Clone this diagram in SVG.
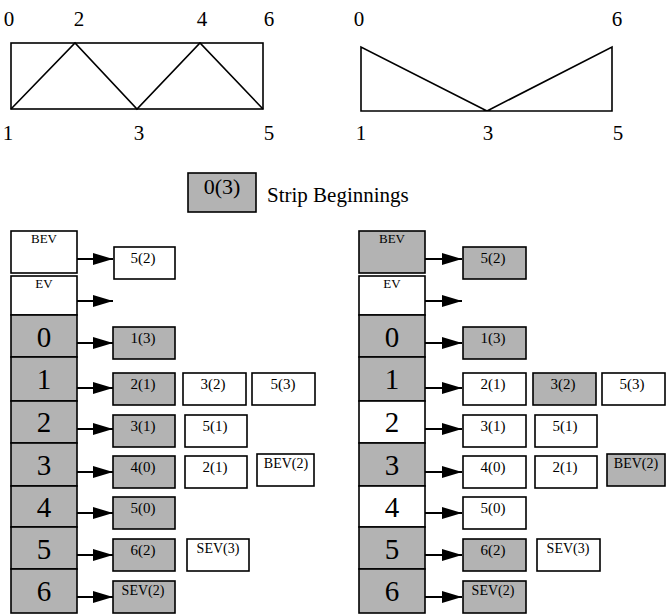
<svg xmlns="http://www.w3.org/2000/svg" width="666" height="615" viewBox="0 0 666 615" font-family="'Liberation Serif', 'DejaVu Serif', serif">
<defs>
<style>
text{font-family:'Liberation Serif','DejaVu Serif',serif;fill:#000}
.lbl{font-size:21px;text-anchor:middle}
.edge{fill:none;stroke:#000;stroke-width:1.6}
.cell{stroke:#000;stroke-width:1.6}
.box{stroke:#000;stroke-width:1.6}
.g{fill:#b3b3b3}
.w{fill:#fff}
.hd{font-size:13px;text-anchor:middle}
.dg{font-size:29px;text-anchor:middle}
.bt{font-size:15px;text-anchor:middle}
.bs{font-size:14px;text-anchor:middle}
.arr{stroke:#000;stroke-width:2;fill:none;marker-end:url(#ah)}
</style>
<marker id="ah" markerUnits="userSpaceOnUse" markerWidth="20" markerHeight="12" refX="20" refY="6" orient="auto">
<path d="M0,0 L20,6 L0,12 z" fill="#000"/>
</marker>
</defs>

<g id="mesh-left">
<rect class="edge" x="11" y="43" width="252" height="66"/>
<polyline class="edge" points="11,109 75,43 137,109 200,43 263,109"/>
<text class="lbl" x="9" y="26">0</text>
<text class="lbl" x="79" y="26">2</text>
<text class="lbl" x="202" y="26">4</text>
<text class="lbl" x="269" y="26">6</text>
<text class="lbl" x="8" y="140">1</text>
<text class="lbl" x="139" y="140">3</text>
<text class="lbl" x="269" y="140">5</text>
</g>

<g id="mesh-right">
<polyline class="edge" points="487,111 361,47 361,111 612,111 612,47 487,111"/>
<text class="lbl" x="359" y="26">0</text>
<text class="lbl" x="617" y="26">6</text>
<text class="lbl" x="361" y="140">1</text>
<text class="lbl" x="488" y="140">3</text>
<text class="lbl" x="618" y="140">5</text>
</g>

<g id="legend">
<rect class="box g" x="188" y="173" width="68" height="39"/>
<text x="222" y="194" font-size="22" text-anchor="middle">0(3)</text>
<text x="267" y="202" font-size="21">Strip Beginnings</text>
</g>

<g id="table-left">
<rect class="cell w" x="11" y="231" width="66" height="42"/>
<text class="hd" x="44" y="243">BEV</text>
<rect class="cell w" x="11" y="276" width="66" height="39"/>
<text class="hd" x="44" y="288">EV</text>
<rect class="cell g" x="11" y="315" width="66" height="42"/>
<text class="dg" x="44" y="347">0</text>
<rect class="cell g" x="11" y="357" width="66" height="44"/>
<text class="dg" x="44" y="389">1</text>
<rect class="cell g" x="11" y="401" width="66" height="42"/>
<text class="dg" x="44" y="432">2</text>
<rect class="cell g" x="11" y="443" width="66" height="43"/>
<text class="dg" x="44" y="475">3</text>
<rect class="cell g" x="11" y="486" width="66" height="41"/>
<text class="dg" x="44" y="517">4</text>
<rect class="cell g" x="11" y="527" width="66" height="42"/>
<text class="dg" x="44" y="559">5</text>
<rect class="cell g" x="11" y="569" width="66" height="44"/>
<text class="dg" x="44" y="601">6</text>
</g>

<g id="lists-left">
<rect class="box w" x="114" y="247" width="61" height="32"/><text class="bt" x="143" y="263">5(2)</text>
<rect class="box g" x="113" y="327" width="62" height="32"/><text class="bt" x="143" y="343">1(3)</text>
<rect class="box g" x="113" y="373" width="62" height="32"/><text class="bt" x="143" y="389">2(1)</text>
<rect class="box w" x="183" y="373" width="63" height="32"/><text class="bt" x="213" y="389">3(2)</text>
<rect class="box w" x="252" y="373" width="63" height="32"/><text class="bt" x="283" y="389">5(3)</text>
<rect class="box g" x="113" y="415" width="62" height="32"/><text class="bt" x="143" y="431">3(1)</text>
<rect class="box w" x="185" y="415" width="62" height="32"/><text class="bt" x="215" y="431">5(1)</text>
<rect class="box g" x="113" y="456" width="62" height="32"/><text class="bt" x="143" y="472">4(0)</text>
<rect class="box w" x="185" y="456" width="62" height="32"/><text class="bt" x="215" y="472">2(1)</text>
<rect class="box w" x="257" y="454" width="57" height="32"/><text class="bs" x="286" y="468">BEV(2)</text>
<rect class="box g" x="113" y="497" width="62" height="32"/><text class="bt" x="143" y="513">5(0)</text>
<rect class="box g" x="113" y="539" width="62" height="32"/><text class="bt" x="143" y="555">6(2)</text>
<rect class="box w" x="187" y="539" width="62" height="32"/><text class="bs" x="218" y="553">SEV(3)</text>
<rect class="box g" x="113" y="581" width="62" height="32"/><text class="bs" x="143" y="595">SEV(2)</text>
</g>

<g id="table-right">
<rect class="cell g" x="359" y="231" width="66" height="42"/>
<text class="hd" x="392" y="243">BEV</text>
<rect class="cell w" x="359" y="276" width="66" height="39"/>
<text class="hd" x="392" y="288">EV</text>
<rect class="cell g" x="359" y="315" width="66" height="42"/>
<text class="dg" x="392" y="347">0</text>
<rect class="cell g" x="359" y="357" width="66" height="44"/>
<text class="dg" x="392" y="389">1</text>
<rect class="cell w" x="359" y="401" width="66" height="42"/>
<text class="dg" x="392" y="432">2</text>
<rect class="cell g" x="359" y="443" width="66" height="43"/>
<text class="dg" x="392" y="475">3</text>
<rect class="cell w" x="359" y="486" width="66" height="41"/>
<text class="dg" x="392" y="517">4</text>
<rect class="cell g" x="359" y="527" width="66" height="42"/>
<text class="dg" x="392" y="559">5</text>
<rect class="cell g" x="359" y="569" width="66" height="44"/>
<text class="dg" x="392" y="601">6</text>
</g>

<g id="lists-right">
<rect class="box g" x="463" y="247" width="63" height="32"/><text class="bt" x="493" y="263">5(2)</text>
<rect class="box g" x="463" y="327" width="63" height="32"/><text class="bt" x="493" y="343">1(3)</text>
<rect class="box w" x="463" y="373" width="63" height="32"/><text class="bt" x="493" y="389">2(1)</text>
<rect class="box g" x="533" y="373" width="63" height="32"/><text class="bt" x="563" y="389">3(2)</text>
<rect class="box w" x="602" y="373" width="63" height="32"/><text class="bt" x="632" y="389">5(3)</text>
<rect class="box w" x="463" y="415" width="63" height="32"/><text class="bt" x="493" y="431">3(1)</text>
<rect class="box w" x="535" y="415" width="62" height="32"/><text class="bt" x="565" y="431">5(1)</text>
<rect class="box w" x="463" y="456" width="63" height="32"/><text class="bt" x="493" y="472">4(0)</text>
<rect class="box w" x="535" y="456" width="62" height="32"/><text class="bt" x="565" y="472">2(1)</text>
<rect class="box g" x="607" y="454" width="58" height="32"/><text class="bs" x="636" y="468">BEV(2)</text>
<rect class="box w" x="463" y="497" width="63" height="32"/><text class="bt" x="493" y="513">5(0)</text>
<rect class="box g" x="463" y="539" width="63" height="32"/><text class="bt" x="493" y="555">6(2)</text>
<rect class="box w" x="537" y="539" width="63" height="32"/><text class="bs" x="568" y="553">SEV(3)</text>
<rect class="box g" x="463" y="581" width="63" height="32"/><text class="bs" x="493" y="595">SEV(2)</text>
</g>

<g id="connectors">
<line class="arr" x1="77" y1="259" x2="113" y2="259"/>
<line class="arr" x1="77" y1="301" x2="113" y2="301"/>
<line class="arr" x1="77" y1="343" x2="113" y2="343"/>
<line class="arr" x1="77" y1="388" x2="113" y2="388"/>
<line class="arr" x1="77" y1="429" x2="113" y2="429"/>
<line class="arr" x1="77" y1="472" x2="113" y2="472"/>
<line class="arr" x1="77" y1="513" x2="113" y2="513"/>
<line class="arr" x1="77" y1="555" x2="113" y2="555"/>
<line class="arr" x1="77" y1="597" x2="113" y2="597"/>
<line class="arr" x1="425" y1="259" x2="462" y2="259"/>
<line class="arr" x1="425" y1="301" x2="462" y2="301"/>
<line class="arr" x1="425" y1="343" x2="462" y2="343"/>
<line class="arr" x1="425" y1="388" x2="462" y2="388"/>
<line class="arr" x1="425" y1="429" x2="462" y2="429"/>
<line class="arr" x1="425" y1="472" x2="462" y2="472"/>
<line class="arr" x1="425" y1="513" x2="462" y2="513"/>
<line class="arr" x1="425" y1="555" x2="462" y2="555"/>
<line class="arr" x1="425" y1="597" x2="462" y2="597"/>
</g>
</svg>
